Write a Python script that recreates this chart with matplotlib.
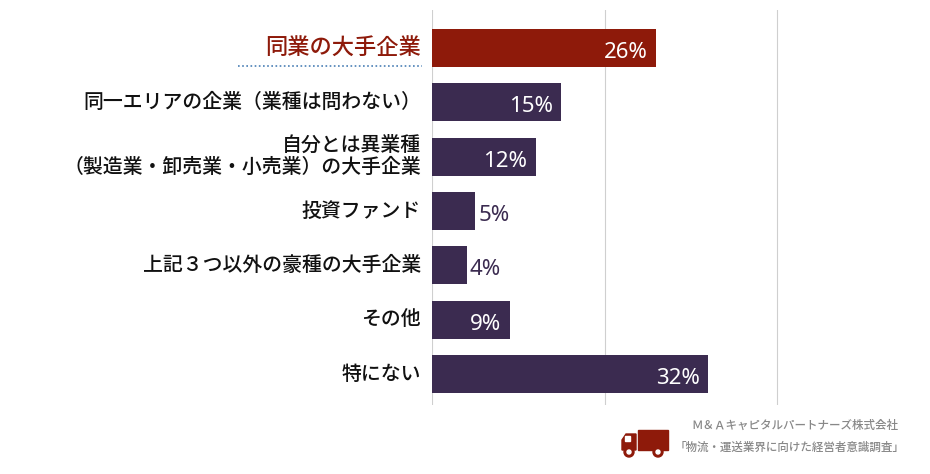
import matplotlib
matplotlib.use("Agg")
import matplotlib.pyplot as plt
from matplotlib.lines import Line2D
from matplotlib.patches import Rectangle, Circle, Polygon

plt.rcParams["font.family"] = "Noto Sans CJK JP"

categories = ["同業の大手企業", "同一エリアの企業（業種は問わない）",
              "自分とは異業種\n（製造業・卸売業・小売業）の大手企業",
              "投資ファンド", "上記３つ以外の豪種の大手企業", "その他", "特にない"]
values = [26, 15, 12, 5, 4, 9, 32]
highlight = 0
RED = "#8E1A0A"
PURPLE = "#3B2B50"

W, H = 930, 474
fig = plt.figure(figsize=(W / 100, H / 100), dpi=100)
fig.patch.set_facecolor("white")
ax = fig.add_axes([432 / W, (H - 405) / H, (779 - 432) / W, (405 - 10) / H])
ax.set_xlim(0, 40.2)
n = len(values)
ax.set_ylim(6.57, -0.70)
for s in ax.spines.values():
    s.set_visible(False)
ax.set_xticks([]); ax.set_yticks([])
for g in [0, 20, 40]:
    ax.axvline(g, color="#cfcfcf", lw=0.8, zorder=0)

for i, (c, v) in enumerate(zip(categories, values)):
    col = RED if i == highlight else PURPLE
    ax.barh(i, v, height=0.7, color=col, zorder=2)
    if v >= 9:
        ax.text(v - 1.0, i + 0.08, f"{v}%", color="white", ha="right", va="center",
                fontsize=16, fontfamily="Noto Sans", zorder=3)
    else:
        ax.text(v + 0.4, i + 0.08, f"{v}%", color=PURPLE, ha="left", va="center",
                fontsize=16, fontfamily="Noto Sans", zorder=3)
    ax.text(-1.3, i, c, ha="right", va="center", fontsize=16 if i == highlight else 14.3,
            color=RED if i == highlight else "#111111", linespacing=1.2,
            fontweight="medium")

fig.add_artist(Line2D([238 / W, 422 / W], [(H - 66) / H] * 2, transform=fig.transFigure,
                      color="#4a7fb5", lw=1.2, ls=(0, (1, 1.5))))

fig.text(898 / W, (H - 425) / H, "Ｍ＆Ａキャピタルパートナーズ株式会社", ha="right", va="center",
         fontsize=8.3, color="#888888", fontweight="medium")
fig.text(904 / W, (H - 447) / H, "「物流・運送業界に向けた経営者意識調査」", ha="right", va="center",
         fontsize=8.3, color="#888888", fontweight="medium")

tx = fig.add_axes([620 / W, (H - 458) / H, 50 / W, 32 / H])
tx.set_xlim(0, 50); tx.set_ylim(0, 32); tx.axis("off")
tx.add_patch(Rectangle((18, 8), 30, 20, color=RED))
tx.add_patch(Polygon([[2, 8], [2, 18], [6, 24], [16, 24], [16, 8]], color=RED))
tx.add_patch(Rectangle((5, 17), 5, 5, color="white"))
for cx in [9, 38]:
    tx.add_patch(Circle((cx, 6), 5, color=RED))
    tx.add_patch(Circle((cx, 6), 2, color="white"))

fig.savefig("out.png", dpi=100)
